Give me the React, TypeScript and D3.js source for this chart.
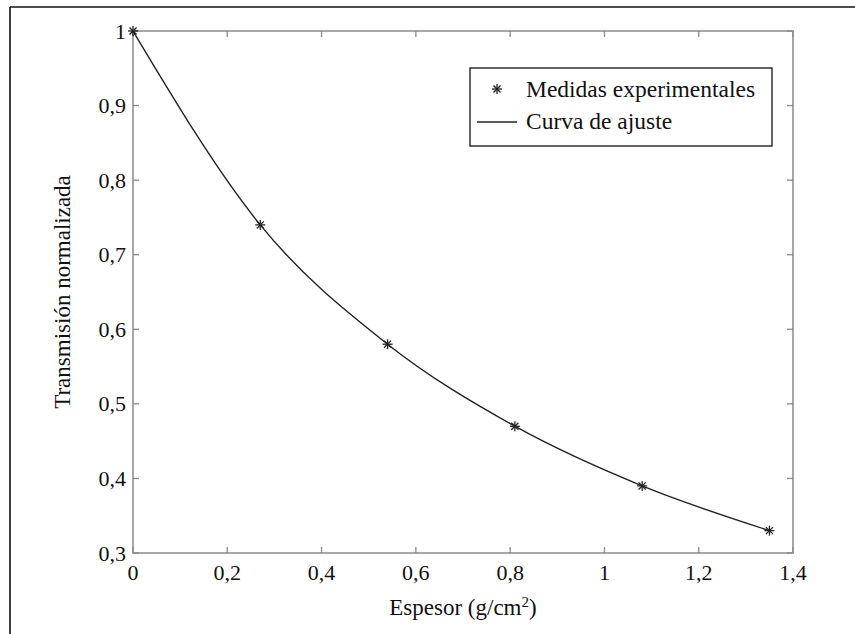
import React from "react";
import * as d3 from "d3";

const thickness = [0, 0.27, 0.54, 0.81, 1.08, 1.35];
const transmission = [1.0, 0.74, 0.58, 0.47, 0.39, 0.33];
const xTicks = [0, 0.2, 0.4, 0.6, 0.8, 1, 1.2, 1.4];
const yTicks = [0.3, 0.4, 0.5, 0.6, 0.7, 0.8, 0.9, 1];
const legendLabels = ["Medidas experimentales", "Curva de ajuste"];

const W = 855;
const H = 634;
const L = 133, R = 793, T = 31, B = 553;
const FONT = "Liberation Serif, Times New Roman, serif";

const fmt = (v: number) => String(Math.round(v * 10) / 10).replace(".", ",");

function Asterisk({ x, y, r }: { x: number; y: number; r: number }) {
  const d = r * Math.SQRT1_2;
  return (
    <g stroke="#222" strokeWidth={1.3}>
      <line x1={x - r} y1={y} x2={x + r} y2={y} />
      <line x1={x} y1={y - r} x2={x} y2={y + r} />
      <line x1={x - d} y1={y - d} x2={x + d} y2={y + d} />
      <line x1={x - d} y1={y + d} x2={x + d} y2={y - d} />
    </g>
  );
}

export default function App() {
  const x = d3.scaleLinear().domain([0, 1.4]).range([L, R]);
  const y = d3.scaleLinear().domain([0.3, 1]).range([B, T]);
  const pts: [number, number][] = thickness.map((t, i) => [t, transmission[i]]);
  const line = d3
    .line<[number, number]>()
    .x((d) => x(d[0]))
    .y((d) => y(d[1]))
    .curve(d3.curveMonotoneX);

  const tk = 6;
  const axisColor = "#8a8a8a";
  const tickStyle = { fontFamily: FONT, fontSize: 22 };
  const labelStyle = { fontFamily: FONT, fontSize: 23 };
  const legStyle = { fontFamily: FONT, fontSize: 23.5 };

  return (
    <svg
      width={W}
      height={H}
      style={{ position: "absolute", left: 0, top: 0, background: "#fff", fontFamily: FONT }}
    >
      <rect x={0} y={0} width={W} height={H} fill="#fff" />
      <line x1={10} y1={7} x2={W} y2={7} stroke="#111" strokeWidth={1.6} />
      <line x1={10} y1={7} x2={10} y2={H} stroke="#111" strokeWidth={1.6} />

      <rect x={L} y={T} width={R - L} height={B - T} fill="none" stroke={axisColor} strokeWidth={1.5} />
      {xTicks.map((v) => (
        <g key={"x" + v}>
          <line x1={x(v)} x2={x(v)} y1={B} y2={B - tk} stroke={axisColor} strokeWidth={1.3} />
          <line x1={x(v)} x2={x(v)} y1={T} y2={T + tk} stroke={axisColor} strokeWidth={1.3} />
          <text x={x(v)} y={B + 27} style={tickStyle} textAnchor="middle" fill="#111">
            {fmt(v)}
          </text>
        </g>
      ))}
      {yTicks.map((v) => (
        <g key={"y" + v}>
          <line x1={L} x2={L + tk} y1={y(v)} y2={y(v)} stroke={axisColor} strokeWidth={1.3} />
          <line x1={R} x2={R - tk} y1={y(v)} y2={y(v)} stroke={axisColor} strokeWidth={1.3} />
          <text x={L - 7} y={y(v) + 7.5} style={tickStyle} textAnchor="end" fill="#111">
            {fmt(v)}
          </text>
        </g>
      ))}

      <path d={line(pts) || ""} fill="none" stroke="#222" strokeWidth={1.4} />
      {pts.map((p, i) => (
        <Asterisk key={i} x={x(p[0])} y={y(p[1])} r={5} />
      ))}

      <text x={(L + R) / 2} y={615} style={labelStyle} textAnchor="middle" fill="#111">
        Espesor (g/cm<tspan dy={-8} style={{ fontSize: 15 }}>2</tspan>
        <tspan dy={8}>)</tspan>
      </text>
      <text
        transform={`translate(70, ${(T + B) / 2}) rotate(-90)`}
        style={labelStyle}
        textAnchor="middle"
        fill="#111"
      >
        Transmisión normalizada
      </text>

      <rect x={470} y={68} width={302} height={78} fill="#fff" stroke="#111" strokeWidth={1.3} />
      <Asterisk x={497} y={89} r={5} />
      <text x={526} y={97} style={legStyle} fill="#111">
        {legendLabels[0]}
      </text>
      <line x1={477} x2={517} y1={122} y2={122} stroke="#222" strokeWidth={1.4} />
      <text x={526} y={129} style={legStyle} fill="#111">
        {legendLabels[1]}
      </text>
    </svg>
  );
}
